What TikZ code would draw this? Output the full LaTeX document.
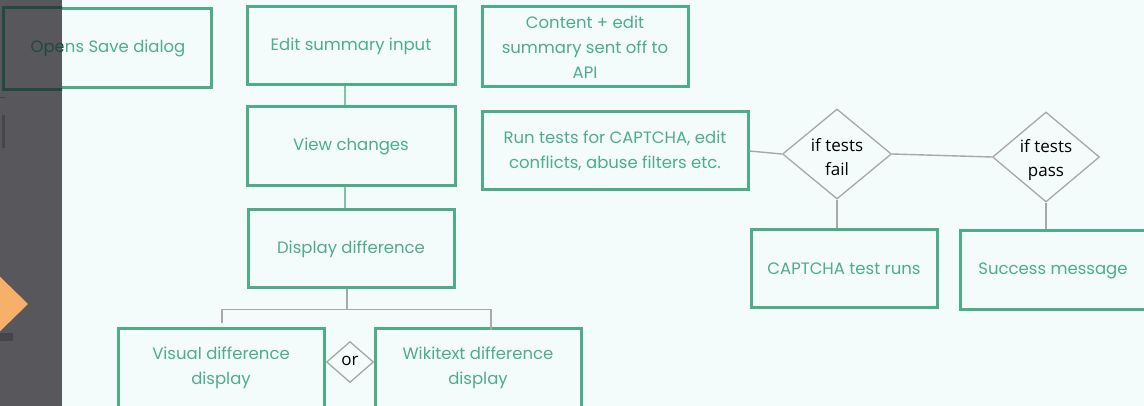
\documentclass[tikz,border=0pt]{standalone}
\usepackage{fontspec}
\setmainfont{Poppins}
\newfontfamily\dfont{Open Sans}
\usetikzlibrary{shapes.geometric}
\definecolor{bgc}{RGB}{243,251,251}
\definecolor{gbox}{RGB}{79,172,137}
\definecolor{gtext}{RGB}{80,172,138}
\definecolor{glink}{RGB}{124,197,170}
\definecolor{greyl}{RGB}{168,168,168}
\definecolor{ovlgrey}{RGB}{88,87,92}
\definecolor{dkgreen}{RGB}{32,74,61}
\definecolor{orng}{RGB}{247,176,106}
\definecolor{darkmark}{RGB}{70,69,74}
\tikzset{
  x=1pt,y=-1pt,
  gbx/.style={draw=gbox,line width=3pt,fill=bgc,text=gtext,align=center,
    font=\fontsize{16.5}{25}\selectfont,inner sep=0pt},
  dia/.style={diamond,draw=greyl,line width=1.3pt,fill=bgc,inner sep=0pt},
  ditext/.style={font=\dfont\fontsize{17}{24}\selectfont,align=center,text=black},
  glk/.style={draw=glink,line width=2.2pt},
  gyl/.style={draw=greyl,line width=1.4pt},
}
\begin{document}
\begin{tikzpicture}
\useasboundingbox (0,0) rectangle (1144,406);
\fill[bgc] (0,0) rectangle (1144,406);
% boxes
\node[gbx,minimum width=206,minimum height=79] (save) at (108,48.5) {Opens Save dialog};
\node[gbx,minimum width=208,minimum height=78] (edit) at (351,46) {Edit summary input};
\node[gbx,minimum width=208,minimum height=79] (view) at (351,146.5) {View changes};
\node[gbx,minimum width=206,minimum height=78] (disp) at (351,249) {Display difference};
\node[gbx,minimum width=206,minimum height=80] (visual) at (221,368) {Visual difference\\display};
\node[gbx,minimum width=206,minimum height=80] (wiki) at (478,368) {Wikitext difference\\display};
\node[gbx,minimum width=206,minimum height=80] (content) at (585,47) {Content + edit\\summary sent off to\\API};
\node[gbx,minimum width=266,minimum height=78] (run) at (615,151) {Run tests for CAPTCHA, edit\\conflicts, abuse filters etc.};
\node[gbx,minimum width=186,minimum height=78] (captcha) at (844,269) {CAPTCHA test runs};
\node[gbx,minimum width=186,minimum height=79] (success) at (1053,270.5) {Success message};
% diamonds
\node[dia,minimum width=109,minimum height=90] (d1) at (837,154) {};
\node[ditext] (d1t) at (837,157) {if tests\\fail};
\node[dia,minimum width=107,minimum height=90] (d2) at (1046,157) {};
\node[ditext] (d2t) at (1046,160) {if tests\\pass};
\node[dia,minimum width=47,minimum height=41] (dor) at (350,362) {};
\node[ditext] (dort) at (350,361) {or};
% connectors
\draw[glk] ([xshift=-6pt]edit.south) -- ([xshift=-6pt]view.north);
\draw[glk] ([xshift=-6pt]view.south) -- ([xshift=-6pt]disp.north);
\coordinate (jl) at (222,323);
\coordinate (jr) at (491,330);
\draw[gyl] ([xshift=-4pt]disp.south) -- ++(0,20) coordinate (jm);
\draw[gyl] (jl) |- (jm) -| (jr);
\draw[gyl] (run.east) -- (d1.west);
\draw[gyl] (d1.east) -- (d2.west);
\draw[gyl] (d1.south) -- (d1.south |- captcha.north);
\draw[gyl] (d2.south) -- (d2.south |- success.north);
% left overlay (opaque, with the covered part of the box in dark tones)
\fill[ovlgrey] (0,0) rectangle (62,406);
\begin{scope}
\clip (0,0) rectangle (62,406);
\draw[dkgreen,line width=3pt] (save.north west) rectangle (save.south east);
\node[gbx,draw=none,fill=none,text=dkgreen] (savedark) at (save.center) {Opens Save dialog};
\end{scope}
\fill[darkmark] (2,115) rectangle (5,148);
\fill[darkmark] (0,97) rectangle (5,98);
\fill[darkmark] (0,333) rectangle (13,341);
\fill[orng] (-10,267) -- (28,304) -- (-10,341) -- cycle;
\end{tikzpicture}
\end{document}
